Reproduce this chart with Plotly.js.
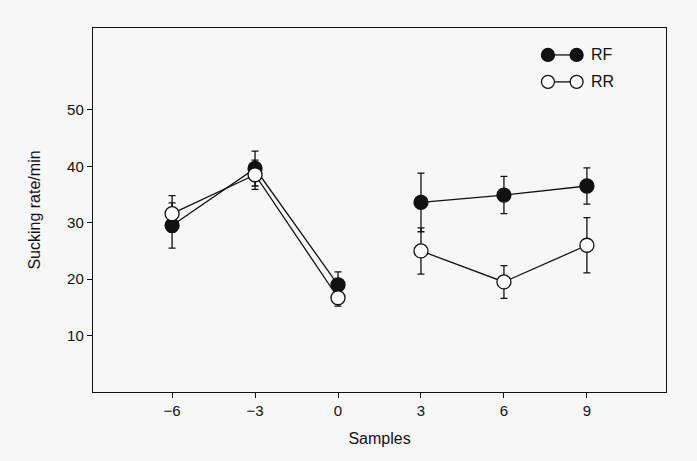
<!DOCTYPE html>
<html>
<head>
<meta charset="utf-8">
<script src="https://cdn.plot.ly/plotly-3.0.1.min.js"></script>
<style>html,body{margin:0;padding:0;background:#f7f7f7;}</style>
</head>
<body>
<div id="chart" style="width:697px;height:461px;"></div>
<script>
// Data
var samples = [-6, -3, 0, 3, 6, 9];
var rfMean = [29.5, 39.6, 19.0, 33.6, 34.9, 36.5];
var rfErr  = [4.0, 3.1, 2.3, 5.2, 3.3, 3.2];
var rrMean = [31.6, 38.5, 16.7, 25.0, 19.5, 26.0];
var rrErr  = [3.2, 2.6, 1.5, 4.1, 2.9, 4.9];
var seriesNames = ['RF', 'RR'];
var xTicks = [-6, -3, 0, 3, 6, 9];
var yTicks = [10, 20, 30, 40, 50];
// the line is broken between index 2 and 3
var segments = [[0, 3], [3, 6]];

function seriesTraces(name, mean, err, fill) {
  var out = [];
  segments.forEach(function (s) {
    out.push({
      x: samples.slice(s[0], s[1]), y: mean.slice(s[0], s[1]),
      mode: 'lines', type: 'scatter', showlegend: false, hoverinfo: 'skip',
      line: {color: '#111', width: 1.3}
    });
  });
  out.push({
    x: samples, y: mean, name: name, mode: 'markers', type: 'scatter', showlegend: false,
    error_y: {type: 'data', array: err, visible: true, color: '#111', thickness: 1.3, width: 3.5},
    marker: {symbol: 'circle', size: 14, color: fill, line: {color: '#111', width: 1.3}}
  });
  return out;
}

var traces = [].concat(
  seriesTraces(seriesNames[0], rfMean, rfErr, '#111'),
  seriesTraces(seriesNames[1], rrMean, rrErr, '#ffffff')
);

var font = {family: 'Liberation Sans, Arial, sans-serif', color: '#111', size: 15};

// custom legend (two markers joined by a line, like the original key)
var shapes = [], annotations = [];
var legY = [0.926, 0.852];
var legFill = ['#111', '#ffffff'];
for (var i = 0; i < 2; i++) {
  shapes.push({type: 'line', xref: 'paper', yref: 'paper', x0: 0.794, x1: 0.844, y0: legY[i], y1: legY[i], line: {color: '#111', width: 1.3}});
  [0.794, 0.844].forEach(function (cx) {
    var rx = 6.5 / 573, ry = 6.5 / 364;
    shapes.push({type: 'circle', xref: 'paper', yref: 'paper', x0: cx - rx, x1: cx + rx, y0: legY[i] - ry, y1: legY[i] + ry,
      fillcolor: legFill[i], line: {color: '#111', width: 1.3}});
  });
  annotations.push({xref: 'paper', yref: 'paper', x: 0.866, y: legY[i], xanchor: 'left', yanchor: 'middle',
    text: seriesNames[i], showarrow: false, font: {family: font.family, size: 16, color: '#111'}});
}

var layout = {
  width: 697, height: 461,
  margin: {l: 93, r: 31, t: 28, b: 69},
  paper_bgcolor: '#f7f7f7', plot_bgcolor: '#f7f7f7',
  font: font,
  showlegend: false,
  xaxis: {
    range: [-8.86, 11.86], tickvals: xTicks, ticks: 'outside', ticklen: 5, tickwidth: 1, tickcolor: '#111',
    showline: true, mirror: true, linecolor: '#111', linewidth: 1.2, showgrid: false, zeroline: false,
    title: {text: 'Samples', font: {size: 16}, standoff: 14}
  },
  yaxis: {
    range: [0, 64.5], tickvals: yTicks, ticks: 'outside', ticklen: 5, tickwidth: 1, tickcolor: '#111',
    showline: true, mirror: true, linecolor: '#111', linewidth: 1.2, showgrid: false, zeroline: false,
    title: {text: 'Sucking rate/min', font: {size: 16}, standoff: 22}
  },
  shapes: shapes, annotations: annotations
};

Plotly.newPlot('chart', traces, layout, {displayModeBar: false, staticPlot: true});
</script>
</body>
</html>
